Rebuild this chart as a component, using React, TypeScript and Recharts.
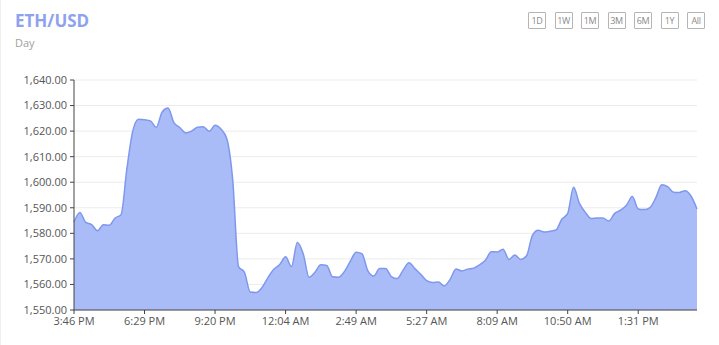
import React from 'react';
import { AreaChart, Area, XAxis, YAxis, CartesianGrid } from 'recharts';

// ETH/USD price, one reading every ~13.5 minutes (12 readings between labelled ticks)
const prices: number[] = [
  1584.4, 1588.2, 1584.3, 1583.4, 1581.0, 1583.4, 1583.2, 1586.0, 1587.3, 1605.3,
  1620.0, 1624.6, 1624.4, 1624.0, 1621.5, 1627.5, 1629.0, 1623.3, 1621.4, 1619.3,
  1620.0, 1621.5, 1621.7, 1619.9, 1622.3, 1620.8, 1617.0, 1601.0, 1567.0, 1564.7,
  1557.0, 1556.8, 1558.8, 1562.7, 1565.9, 1567.8, 1570.8, 1567.0, 1576.4, 1572.0,
  1562.8, 1564.8, 1567.7, 1567.4, 1563.0, 1562.8, 1565.0, 1569.0, 1572.6, 1572.0,
  1565.3, 1563.3, 1566.2, 1566.2, 1563.1, 1562.3, 1565.6, 1568.5, 1566.2, 1564.0,
  1561.5, 1560.8, 1561.0, 1559.4, 1562.0, 1566.0, 1565.3, 1566.0, 1566.4, 1567.7,
  1569.5, 1572.8, 1572.7, 1573.8, 1569.8, 1571.5, 1569.8, 1571.2, 1579.2, 1581.2,
  1580.5, 1580.8, 1581.3, 1585.5, 1587.8, 1598.0, 1591.7, 1588.2, 1585.8, 1586.0,
  1586.0, 1584.8, 1587.8, 1589.1, 1591.0, 1594.4, 1589.5, 1589.3, 1590.1, 1594.0,
  1599.0, 1598.3, 1596.1, 1596.0, 1596.7, 1594.5, 1589.5,
];

const tickIndexes = [0, 12, 24, 36, 48, 60, 72, 84, 96];
const tickLabels = ['3:46 PM', '6:29 PM', '9:20 PM', '12:04 AM', '2:49 AM', '5:27 AM', '8:09 AM', '10:50 AM', '1:31 PM'];
const priceTicks = [1550, 1560, 1570, 1580, 1590, 1600, 1610, 1620, 1630, 1640];
const ranges = ['1D', '1W', '1M', '3M', '6M', '1Y', 'All'];

const data = prices.map((price, idx) => ({ idx, price }));

const fontFamily = '"Open Sans", "Noto Sans", sans-serif';

const formatPrice = (v: number) =>
  v.toLocaleString('en-US', { minimumFractionDigits: 2, maximumFractionDigits: 2 });

const formatTime = (v: number) => tickLabels[tickIndexes.indexOf(v)] ?? '';

export default function App() {
  return (
    <div
      style={{
        position: 'fixed',
        left: 0,
        top: 0,
        width: 719,
        height: 345,
        background: '#fff',
        fontFamily,
        borderLeft: '1px solid #eee',
        boxSizing: 'border-box',
      }}
    >
      <div style={{ position: 'absolute', left: 14, top: 9, fontSize: 17, fontWeight: 700, color: '#8ea2ee' }}>
        ETH/USD
      </div>
      <div style={{ position: 'absolute', left: 14, top: 35, fontSize: 11, color: '#a0a0a0' }}>Day</div>

      {/* range buttons */}
      <div style={{ position: 'absolute', left: 527, top: 12, display: 'flex', gap: 8.5 }}>
        {ranges.map(r => (
          <div
            key={r}
            style={{
              border: '1px solid #b5b5b5',
              borderRadius: 1,
              width: 18,
              height: 17,
              boxSizing: 'border-box',
              fontSize: 9,
              letterSpacing: -0.4,
              lineHeight: '15px',
              textAlign: 'center',
              color: '#8a8a8a',
            }}
          >
            {r}
          </div>
        ))}
      </div>

      <AreaChart
        width={719}
        height={345}
        data={data}
        margin={{ top: 80, right: 23, left: 0, bottom: 5 }}
        style={{ position: 'absolute', left: 0, top: 0 }}
      >
        <CartesianGrid vertical={false} stroke="#ececec" />
        <XAxis
          dataKey="idx"
          type="number"
          domain={[0, prices.length - 1]}
          ticks={tickIndexes}
          tickFormatter={formatTime}
          height={30}
          tickSize={4}
          tickMargin={3}
          stroke="#444"
          tick={{ fontSize: 11, fill: '#555', fontFamily }}
        />
        <YAxis
          domain={[1550, 1640]}
          ticks={priceTicks}
          tickFormatter={formatPrice}
          width={73}
          tickSize={4}
          tickMargin={3}
          stroke="#444"
          tick={{ fontSize: 11, fill: '#555', fontFamily }}
          interval={0}
        />
        <Area
          type="monotone"
          dataKey="price"
          stroke="#7f98ee"
          strokeWidth={1.5}
          fill="#a9bcf8"
          fillOpacity={1}
          isAnimationActive={false}
          baseValue={1550}
          dot={false}
        />
      </AreaChart>
    </div>
  );
}
